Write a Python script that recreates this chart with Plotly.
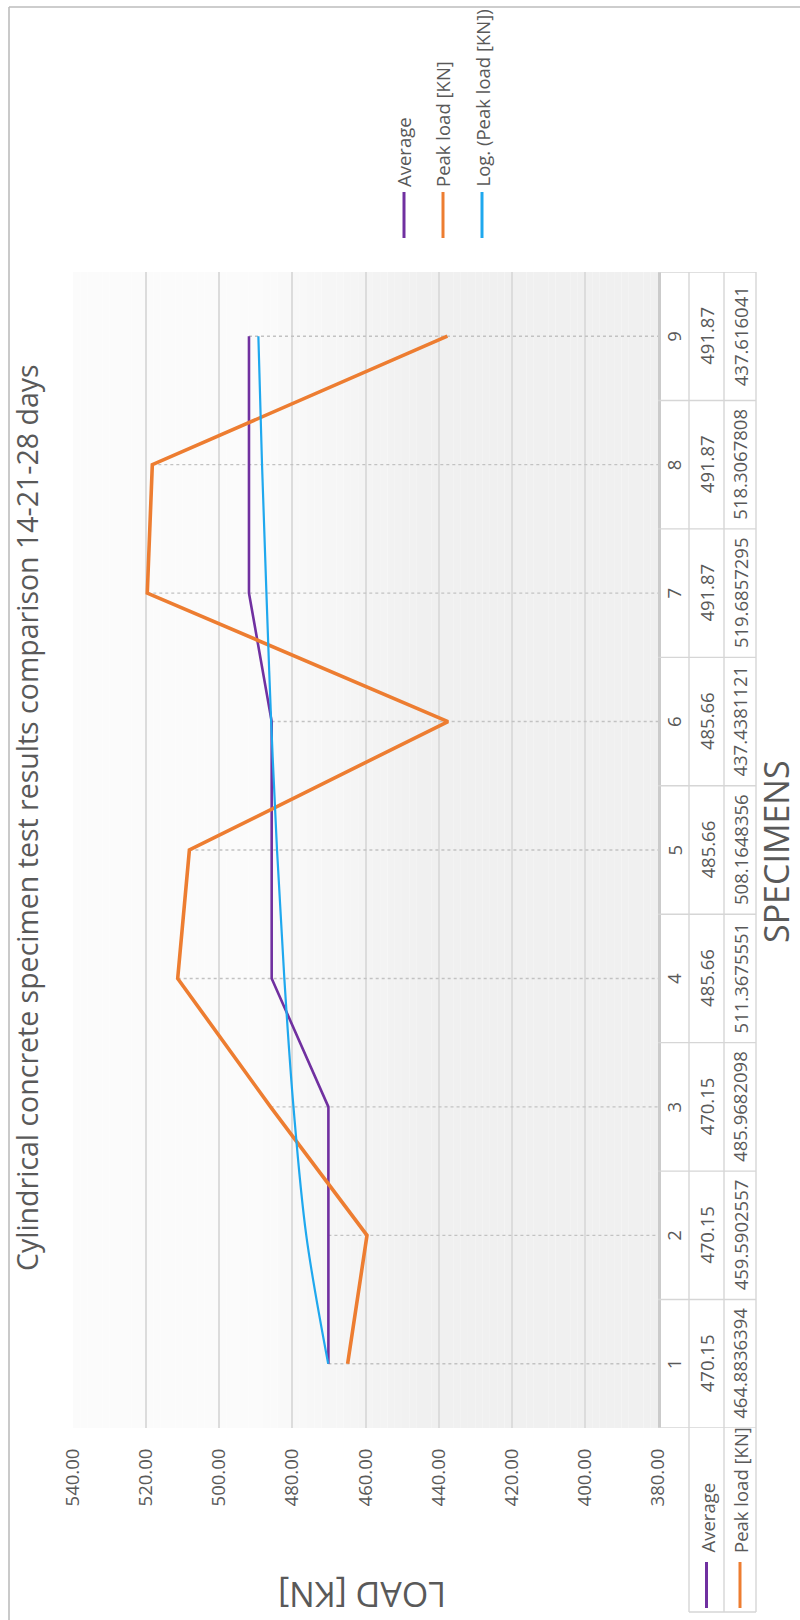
import plotly.graph_objects as go

# ---- data -------------------------------------------------------------
specimens = [1, 2, 3, 4, 5, 6, 7, 8, 9]
average = [470.15, 470.15, 470.15, 485.66, 485.66, 485.66, 491.87, 491.87, 491.87]
peak_load = [464.8836394, 459.5902557, 485.9682098, 511.3675551, 508.1648356,
             437.4381121, 519.6857295, 518.3067808, 437.616041]
log_trend = [470.2, 476.2, 479.7, 482.2, 484.2, 485.8, 487.1, 488.3, 489.3]
load_ticks = [380, 400, 420, 440, 460, 480, 500, 520, 540]

title_text = "Cylindrical concrete specimen test results comparison 14-21-28 days"
series_names = ["Average", "Peak load [KN]", "Log. (Peak load [KN])"]
series_colors = ["#7030A0", "#ED7D31", "#1FA8EE"]
load_title = "LOAD [KN]"
specimen_title = "SPECIMENS"

# ---- page geometry (the chart is laid out turned a quarter turn) ------
W, H = 800, 1620
L, R, T, B = 73, 142, 272, 192
PW, PH = W - L - R, H - T - B
FONT = "Open Sans"
TXT = "#595959"
GRID = "#dcdcdc"
TABLE_LINE = "#d6d6d6"


def px(x_pix):
    return (x_pix - L) / PW


def py(y_pix):
    return (H - B - y_pix) / PH


def label(x, y, text, size, angle=-90, xref="paper", yref="paper",
          xanchor="center", yanchor="middle"):
    return dict(xref=xref, yref=yref, x=x, y=y, text=text, textangle=angle,
                xanchor=xanchor, yanchor=yanchor, showarrow=False,
                font=dict(family=FONT, size=size, color=TXT))


fig = go.Figure()

# drop lines from the highest series value to the category axis
for s, a, p in zip(specimens, average, peak_load):
    top = max(a, p)
    fig.add_trace(go.Scatter(
        x=[top, min(load_ticks)], y=[s, s], mode="lines",
        line=dict(color="#c2c2c2", width=1.4, dash="dot"),
        hoverinfo="skip", showlegend=False))

fig.add_trace(go.Scatter(x=average, y=specimens, mode="lines", name=series_names[0],
                         line=dict(color=series_colors[0], width=2.6), showlegend=False))
fig.add_trace(go.Scatter(x=peak_load, y=specimens, mode="lines", name=series_names[1],
                         line=dict(color=series_colors[1], width=3.6), showlegend=False))
fig.add_trace(go.Scatter(x=log_trend, y=specimens, mode="lines", name=series_names[2],
                         line=dict(color=series_colors[2], width=2.2, shape="spline",
                                   smoothing=1.0), showlegend=False))

shapes = []
annotations = []

# plot-area shading: light on the high-load side, grey on the low-load side
lo, hi = min(load_ticks), max(load_ticks)
step = 2
v = hi
while v > lo:
    if v >= 492:
        g = 251
    elif v <= 444:
        g = 240
    else:
        g = round(240 + (v - 444) / (492 - 444) * 11)
    shapes.append(dict(type="rect", xref="x", yref="paper", x0=v, x1=v - step,
                       y0=0, y1=1, line=dict(width=0),
                       fillcolor=f"rgb({g},{g},{g})", layer="below"))
    v -= step

# data table next to the category axis
col_px = [658, 689, 724, 756]
table_top, table_bottom = 272, 1612
for cx in col_px[1:]:
    shapes.append(dict(type="line", xref="paper", yref="paper",
                       x0=px(cx), x1=px(cx), y0=py(table_top), y1=py(table_bottom),
                       line=dict(color=TABLE_LINE, width=1.4)))
for k in range(len(specimens) + 1):
    shapes.append(dict(type="line", xref="paper", yref="y",
                       x0=px(col_px[0]), x1=px(col_px[3]), y0=k + 0.5, y1=k + 0.5,
                       line=dict(color=TABLE_LINE, width=1.4)))
shapes.append(dict(type="line", xref="paper", yref="paper",
                   x0=px(col_px[1]), x1=px(col_px[3]), y0=py(table_bottom), y1=py(table_bottom),
                   line=dict(color=TABLE_LINE, width=1.4)))

CELL = 18.5
centers = [(col_px[i] + col_px[i + 1]) / 2 for i in range(3)]
for s, a, p in zip(specimens, average, peak_load):
    for cx, txt in zip(centers, [str(s), str(a), str(p)]):
        annotations.append(label(px(cx), s, txt, CELL, yref="y"))

# row headers with legend keys
for cx, name, col in zip(centers[1:], series_names[:2], series_colors[:2]):
    annotations.append(label(px(cx), py(1555), name, CELL, yanchor="bottom"))
    shapes.append(dict(type="line", xref="paper", yref="paper",
                       x0=px(cx), x1=px(cx), y0=py(1562), y1=py(1608),
                       line=dict(color=col, width=3)))

# legend
for lx, name, col in zip([404, 443, 482], series_names, series_colors):
    annotations.append(label(px(lx), py(189), name, CELL, yanchor="bottom"))
    shapes.append(dict(type="line", xref="paper", yref="paper",
                       x0=px(lx), x1=px(lx), y0=py(192), y1=py(238),
                       line=dict(color=col, width=3)))

# titles
annotations.append(label(px(27), py(818), title_text, 28.5))
annotations.append(label(px(362), py(1595), load_title, 34, angle=180))
annotations.append(label(px(776), py(852), specimen_title, 34))

# chart frame
shapes.append(dict(type="line", xref="paper", yref="paper",
                   x0=px(9), x1=px(9), y0=py(7), y1=py(H + 5),
                   line=dict(color="#bdbdbd", width=1.6)))
shapes.append(dict(type="line", xref="paper", yref="paper",
                   x0=px(9), x1=px(W + 5), y0=py(7), y1=py(7),
                   line=dict(color="#bdbdbd", width=1.6)))

fig.update_layout(
    width=W, height=H,
    margin=dict(l=L, r=R, t=T, b=B, autoexpand=False),
    paper_bgcolor="white", plot_bgcolor="white",
    shapes=shapes, annotations=annotations,
    showlegend=False,
    xaxis=dict(range=[hi, lo], tickvals=load_ticks, tickformat=".2f", tickangle=-90,
               showgrid=True, gridcolor=GRID, gridwidth=2, zeroline=False,
               showline=False, ticks="", ticklabelstandoff=16,
               tickfont=dict(family=FONT, size=18.5, color=TXT)),
    yaxis=dict(range=[0.5, len(specimens) + 0.5], showgrid=False, zeroline=False,
               showline=True, side="right", linecolor="#cbcbcb", linewidth=2.5,
               showticklabels=False, ticks=""),
)

fig.write_html("out.html")
